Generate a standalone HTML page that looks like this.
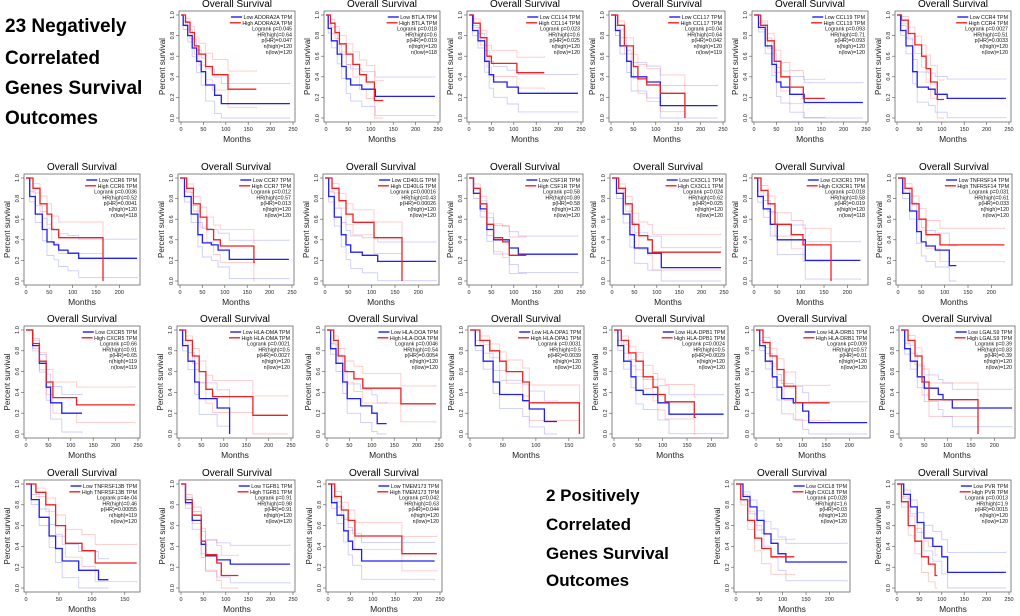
<!DOCTYPE html>
<html><head><meta charset="utf-8">
<style>
html,body{margin:0;padding:0;background:#fff;}
svg{display:block;font-family:"Liberation Sans",Arial,sans-serif;}
.big{font-weight:bold;font-size:17px;fill:#000;}
.big2{font-weight:bold;font-size:19px;fill:#000;}
</style></head>
<body>
<svg id="fig" width="1020" height="616" viewBox="0 0 1020 616" xmlns="http://www.w3.org/2000/svg">
<g>
<text class="big2" x="5" y="32">23 Negatively</text>
<text class="big2" x="5" y="64">Correlated</text>
<text class="big2" x="5" y="94">Genes Survival</text>
<text class="big2" x="5" y="124">Outcomes</text>
</g>
<g>
<text class="big" x="546" y="501">2 Positively</text>
<text class="big" x="546" y="530">Correlated</text>
<text class="big" x="546" y="559">Genes Survival</text>
<text class="big" x="546" y="586">Outcomes</text>
</g>
</svg>
<script>
// ---- data (times in months, survival fraction) ----
const genes = ["ADORA2A","BTLA","CCL14","CCL17","CCL19","CCR4","CCR6","CCR7","CD40LG","CSF1R","CX3CL1","CX3CR1","TNFRSF14","CXCR5","HLA-DMA","HLA-DOA","HLA-DPA1","HLA-DPB1","HLA-DRB1","LGALS9","TNFRSF13B","TGFB1","TMEM173","CXCL8","PVR"];
const kmTimes = {
 lowT:[
  [0,5,15,25,35,45,55,75,90,243],[0,5,12,25,35,45,55,80,110,243],[0,8,20,35,45,55,85,110,243],[0,10,20,35,45,80,110,238],[0,10,25,40,50,60,80,112,243],[0,8,20,35,45,70,85,112,243],
  [0,8,20,35,45,60,70,90,113,238],[0,10,25,40,50,70,85,110,243],[0,8,20,35,45,55,80,113,238],[0,10,25,40,55,90,110,243],[0,10,25,40,50,80,110,243],[0,8,20,35,50,110,228],[0,10,25,40,50,60,80,110,125],
  [0,15,30,45,55,80,125],[0,8,20,35,45,85,113],[0,8,20,35,45,75,100,112,133],[0,8,20,35,45,80,90,113,132],[0,8,20,35,45,60,90,113,225],[0,8,20,35,45,55,80,100,113,238],[0,8,20,35,50,80,90,110,238],
  [0,8,20,35,45,55,80,110,125],[0,10,25,45,55,80,110,243],[0,8,20,35,45,55,75,238],[0,15,30,45,60,75,90,107,238],[0,15,30,45,60,80,100,113,243]],
 highT:[
  [0,10,20,30,40,55,70,105,168],[0,10,20,30,45,60,75,90,108,128],[0,10,25,40,50,107,168],[0,15,30,50,60,80,110,165],[0,15,30,45,60,80,110,158],[0,10,25,40,55,65,75,90,105],
  [0,15,30,45,55,70,165],[0,15,30,45,60,75,90,165,167],[0,15,30,45,60,105,165],[0,10,25,40,55,75,90,128],[0,15,30,45,60,80,90,243],[0,15,30,45,80,105,165],[0,15,30,45,60,90,228],
  [0,15,30,45,60,113,243],[0,15,30,45,60,75,165,243],[0,15,25,40,60,80,165,243],[0,15,30,45,55,80,90,166],[0,15,30,45,60,80,90,105,165,168],[0,15,30,45,60,85,158],[0,15,30,45,60,165],
  [0,15,30,45,60,85,105,168],[0,10,25,45,55,80,90,128],[0,15,30,45,60,165,243],[0,10,25,40,55,75,125],[0,10,25,40,55,70,85,90]]
};
const kmLowS = [
 [1,.9,.8,.68,.55,.45,.32,.22,.14,.14],[1,.87,.75,.62,.5,.38,.32,.28,.21,.21],[1,.85,.75,.55,.42,.35,.3,.24,.24],[1,.85,.7,.55,.4,.35,.12,.12],[1,.88,.7,.52,.35,.3,.23,.15,.15],[1,.85,.7,.45,.3,.28,.23,.19,.19],
 [1,.82,.65,.5,.38,.35,.3,.27,.22,.22],[1,.82,.65,.45,.37,.35,.3,.21,.21],[1,.82,.62,.45,.35,.28,.25,.19,.19],[1,.85,.7,.5,.4,.32,.26,.26],[1,.85,.65,.45,.32,.27,.13,.13],[1,.82,.7,.55,.4,.2,.2],[1,.85,.68,.48,.38,.34,.3,.15,.15],
 [1,.85,.68,.45,.3,.2,.2],[1,.85,.7,.5,.34,.25,0],[1,.82,.68,.5,.34,.27,.2,.1,.1],[1,.85,.7,.5,.38,.32,.24,.12,.12],[1,.85,.7,.55,.42,.38,.3,.19,.19],[1,.85,.7,.55,.45,.34,.3,.22,.11,.11],[1,.82,.7,.55,.44,.38,.33,.25,.25],
 [1,.85,.68,.5,.38,.26,.17,.08,.08],[1,.82,.65,.42,.31,.27,.23,.23],[1,.82,.7,.55,.45,.37,.26,.26],[1,.88,.78,.65,.52,.43,.33,.25,.25],[1,.9,.78,.63,.48,.4,.3,.15,.15]];
const kmHighS = [
 [1,.93,.83,.7,.62,.5,.42,.28,.28],[1,.92,.83,.72,.62,.52,.42,.35,.17,.17],[1,.92,.78,.6,.53,.44,.44],[1,.9,.7,.5,.38,.32,.24,0],[1,.9,.75,.55,.4,.3,.19,.19],[1,.95,.82,.71,.6,.48,.35,.18,.18],
 [1,.9,.75,.65,.5,.42,0],[1,.9,.75,.62,.5,.4,.34,.18,.18],[1,.9,.78,.65,.57,.42,0],[1,.9,.75,.55,.42,.38,.25,.25],[1,.9,.75,.55,.44,.4,.28,.28],[1,.88,.75,.55,.45,.35,0],[1,.9,.75,.6,.45,.35,.35],
 [1,.87,.7,.5,.35,.28,.28],[1,.9,.75,.6,.43,.36,.18,.18],[1,.9,.75,.6,.53,.44,.29,.29],[1,.9,.8,.7,.6,.5,.3,0],[1,.9,.78,.7,.55,.45,.38,.31,.16,.16],[1,.88,.75,.62,.46,.3,.3],[1,.9,.75,.5,.33,0],
 [1,.92,.8,.6,.43,.36,.24,.24],[1,.85,.7,.45,.32,.24,.12,.12],[1,.88,.75,.65,.5,.33,.33],[1,.85,.65,.48,.38,.3,.3],[1,.83,.6,.45,.3,.23,.12,.12]];
const kmStats = [
 ["0.045","0.64","0.047","120","120"],["0.018","0.6","0.019","120","118"],["0.023","0.6","0.025","120","120"],["0.04","0.64","0.042","120","119"],["0.093","0.71","0.093","120","120"],["0.0027","0.51","0.0033","120","120"],
 ["0.0036","0.52","0.0041","120","118"],["0.012","0.57","0.013","120","120"],["0.00016","0.43","0.00026","120","120"],["0.58","0.89","0.58","120","120"],["0.024","0.62","0.025","120","120"],["0.018","0.58","0.019","120","118"],["0.031","0.61","0.033","120","120"],
 ["0.66","0.91","0.65","119","119"],["0.0021","0.5","0.0027","120","120"],["0.0046","0.54","0.0054","120","120"],["0.0031","0.5","0.0039","120","120"],["0.0024","0.5","0.0029","120","120"],["0.009","0.57","0.01","120","120"],["0.39","0.83","0.39","120","120"],
 ["4e-04","0.46","0.00055","119","120"],["0.91","0.98","0.91","120","120"],["0.042","0.63","0.044","120","120"],["0.028","1.6","0.03","120","120"],["0.0013","1.9","0.0015","120","120"]];
const xMaxes = [250,250,250,250,250,250, 240,250,240,250,250,240,240, 250,250,250,170,230,240,240, 170,250,250,240,250];
const xTickLabels = [0,50,100,150,200,250];
const yTickLabels = [0.0,0.2,0.4,0.6,0.8,1.0];

// ---- layout ----
const rowY = [[15,118],[178,281],[330,434],[484,588]];
const panelPos = [
 [0,179],[0,324],[0,467],[0,609],[0,752],[0,895],
 [1,24],[1,178],[1,323],[1,467],[1,610],[1,752],[1,896],
 [2,24],[2,177],[2,325],[2,468],[2,612],[2,754],[2,899],
 [3,24],[3,179],[3,326],[3,734],[3,895]];
const BW = 116;
const NS = "http://www.w3.org/2000/svg";
const svg = document.getElementById('fig');
function mk(tag, attrs, parent){const e=document.createElementNS(NS,tag);for(const k in attrs)e.setAttribute(k,attrs[k]);parent.appendChild(e);return e;}

function stepPath(ts, ss, sx, sy){
  let d = "M"+sx(ts[0]).toFixed(1)+","+sy(ss[0]).toFixed(1);
  for(let i=1;i<ts.length;i++){
    d += "H"+sx(ts[i]).toFixed(1)+"V"+sy(ss[i]).toFixed(1);
  }
  return d;
}
function band(ss, sign){
  return ss.map((s,i)=>{ if(i===0) return 1; const w=0.02+0.13*(1-s)+0.08*i/ss.length; return Math.max(0,Math.min(1,s+sign*w)); });
}

for(let p=0;p<genes.length;p++){
  const [r,L] = panelPos[p];
  const [y1,y0] = rowY[r];
  const xmax = xMaxes[p];
  const sx = t => L+2 + (t/xmax)*(BW-4);
  const sy = s => y0 - s*(y0-y1);
  const g = mk('g',{},svg);
  
  
  const top=y1-4, bot=y0+4;
  const t = mk('text',{x:L+BW/2,y:top-4,'text-anchor':'middle','font-size':'10',fill:'#000'},g);
  t.textContent='Overall Survival';
  
  
  const box = mk('rect',{x:L,y:top,width:BW,height:bot-top,fill:'none',stroke:'#666','stroke-width':'0.8'},g);
  
  
  yTickLabels.forEach(v=>{
    const yy=sy(v);
    mk('line',{x1:L-3,x2:L,y1:yy,y2:yy,stroke:'#555','stroke-width':'0.6'},g);
    const tl=mk('text',{x:L-5,y:yy,'text-anchor':'middle','font-size':'5.5',fill:'#222',transform:'rotate(-90 '+(L-5)+' '+yy+')'},g);
    tl.textContent=v.toFixed(1);
    
    
  });
  xTickLabels.forEach(v=>{
    if(v>xmax+1) return;
    const xx=sx(v);
    mk('line',{x1:xx,x2:xx,y1:bot,y2:bot+3,stroke:'#555','stroke-width':'0.6'},g);
    const tl=mk('text',{x:xx,y:bot+9,'text-anchor':'middle','font-size':'5.5',fill:'#222'},g);
    tl.textContent=v;
    
    
  });
  const xl=mk('text',{x:L+BW/2,y:bot+20,'text-anchor':'middle','font-size':'8.5',fill:'#222'},g);
  xl.textContent='Months';
  
  
  const ycx=L-14, ycy=(top+bot)/2;
  const yl=mk('text',{x:ycx,y:ycy,'text-anchor':'middle','font-size':'8',fill:'#222',transform:'rotate(-90 '+ycx+' '+ycy+')'},g);
  yl.textContent='Percent survival';
  
  
  const series=[[kmTimes.lowT[p],kmLowS[p],'#2020f0','rgba(110,110,255,0.35)','low'],[kmTimes.highT[p],kmHighS[p],'#f02020','rgba(255,100,100,0.35)','high']];
  series.forEach(([ts,ss,col,lc,nm])=>{
    [1,-1].forEach(sg=>{
      const b=mk('path',{d:stepPath(ts,band(ss,sg),sx,sy),fill:'none',stroke:lc,'stroke-width':'0.9'},g);
      
      
    });
  });
  series.forEach(([ts,ss,col,lc,nm])=>{
    const c=mk('path',{d:stepPath(ts,ss,sx,sy),fill:'none',stroke:col,'stroke-width':'1.3'},g);
    
    
  });
  const R=L+BW-3, ly=y1+2;
  const st=kmStats[p];
  const lines=['Low '+genes[p]+' TPM','High '+genes[p]+' TPM','Logrank p='+st[0],'HR(high)='+st[1],'p(HR)='+st[2],'n(high)='+st[3],'n(low)='+st[4]];
  const lg=mk('g',{},g);
  
  
  lines.forEach((s,i)=>{
    const tt=mk('text',{x:R,y:ly+i*5.8+2,'text-anchor':'end','font-size':'5.3',fill:'#111'},lg);
    tt.textContent=s;
    
    
    if(i<2){
      let w=s.length*2.75;
      try{w=tt.getComputedTextLength();}catch(e){}
      const x2=R-w-1.5;
      mk('line',{x1:x2-11,x2:x2,y1:ly+i*5.8,y2:ly+i*5.8,stroke:i===0?'#2020f0':'#f02020','stroke-width':'1.4'},lg);
    }
  });
}
</script>
</body></html>
